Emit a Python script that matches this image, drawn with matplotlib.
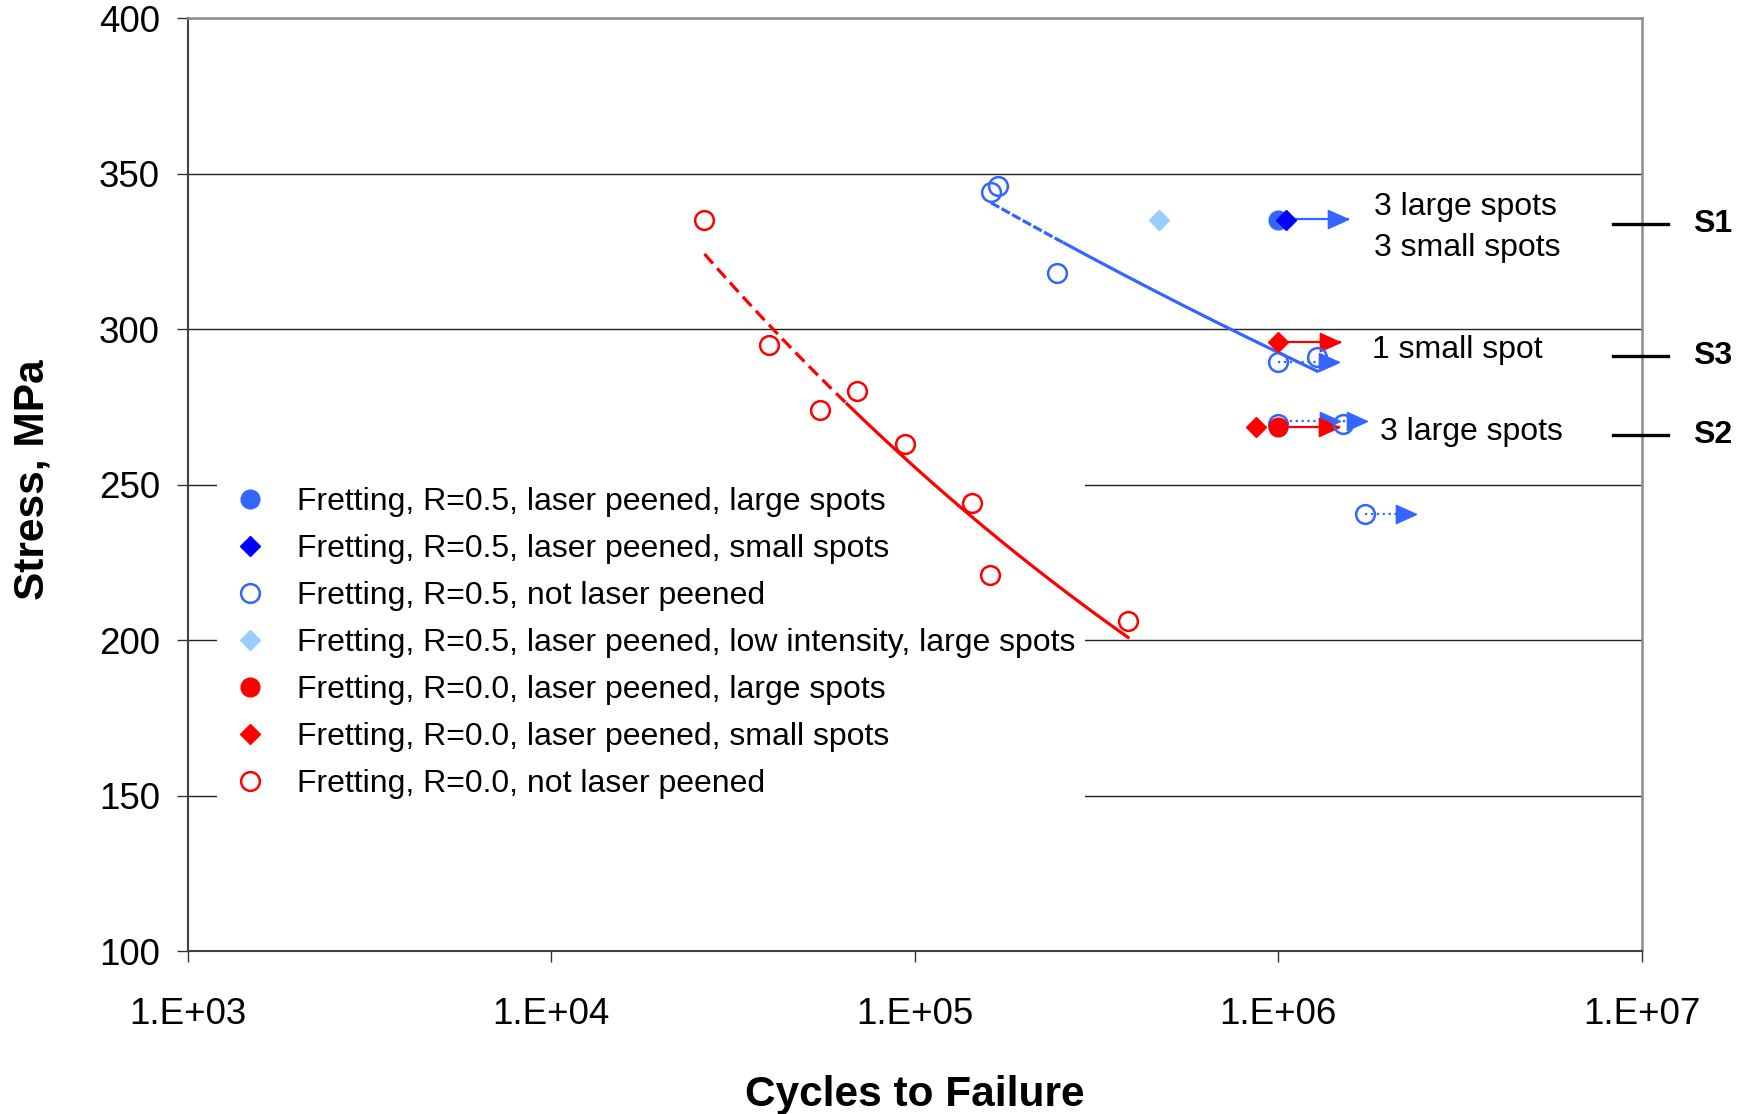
import numpy as np
import matplotlib
matplotlib.use("Agg")
import matplotlib.pyplot as plt
from matplotlib.ticker import FixedLocator, FuncFormatter, NullLocator

plt.rcParams['font.family'] = ['Liberation Sans', 'DejaVu Sans']

# --- data (cycles, stress in MPa) ---
# R=0.5
blue_lp_large_N = [1.0e6]
blue_lp_large_S = [335]
blue_lp_small_N = [1.05e6]
blue_lp_small_S = [335]
blue_open_N = [1.62e5, 1.69e5, 2.46e5, 1.0e6, 1.28e6, 1.0e6, 1.51e6, 1.73e6]
blue_open_S = [344, 346, 318, 289.5, 291, 269.5, 269.5, 240.5]
blue_fit_count = 5  # trend uses the first five points
blue_low_N = [4.71e5]
blue_low_S = [335]

# R=0.0
red_lp_large_N = [1.0e6]
red_lp_large_S = [268.5]
red_lp_small_N = [8.69e5, 1.0e6]
red_lp_small_S = [268.5, 296]
red_open_N = [2.64e4, 3.98e4, 5.48e4, 6.93e4, 9.41e4, 1.44e5, 1.61e5, 3.86e5]
red_open_S = [335, 295, 274, 280, 263, 244, 221, 206]

# run-outs (arrows): start cycles, end cycles, stress, colour, line style
runout_start = [1.05e6, 1.0e6, 1.0e6, 1.0e6, 1.0e6, 1.51e6, 1.73e6]
runout_end = [1.56e6, 1.48e6, 1.47e6, 1.48e6, 1.47e6, 1.75e6, 2.4e6]
runout_S = [335.5, 296, 289.5, 270.5, 268.5, 270.5, 240.5]
runout_color = ['#3366FF', '#FF0000', '#3366FF', '#3366FF', '#FF0000', '#3366FF', '#3366FF']
runout_style = ['-', '-', ':', ':', '-', ':', ':']

# spot annotations
note_text = ['3 large spots', '3 small spots', '1 small spot', '3 large spots']
note_N = [1.83e6, 1.83e6, 1.81e6, 1.90e6]
note_S = [339.4, 326, 293.3, 267.0]

# specimen levels on the right
level_names = ['S1', 'S3', 'S2']
level_S = [333.7, 291.4, 266.0]

x_ticks = [1e3, 1e4, 1e5, 1e6, 1e7]
y_ticks = [100, 150, 200, 250, 300, 350, 400]

BLUE = '#3366FF'
DARK_BLUE = '#0000FF'
LIGHT_BLUE = '#99CCFF'
RED = '#FF0000'

fig = plt.figure(figsize=(17.49, 11.14), dpi=100)
ax = fig.add_axes([0.1073, 0.1463, 0.9387 - 0.1073, 0.9836 - 0.1463])

ax.set_xscale('log')
ax.set_xlim(1e3, 1e7)
ax.set_ylim(100, 400)

# power-law trend lines (linear in log-log), dashed at the start
def trend(N, S, dash_until, color, dashes):
    b, a = np.polyfit(np.log10(N), np.log10(S), 1)
    xs = np.logspace(np.log10(min(N)), np.log10(max(N)), 200)
    ys = 10 ** (a + b * np.log10(xs))
    k = int((xs <= dash_until).sum())
    ax.plot(xs[:k], ys[:k], color=color, lw=2.3, ls=(0, dashes), zorder=3)
    ax.plot(xs[k - 1:], ys[k - 1:], color=color, lw=2.3, zorder=3)

trend(red_open_N, red_open_S, 6.6e4, RED, (4, 2))
trend(blue_open_N[:blue_fit_count], blue_open_S[:blue_fit_count], 2.6e5, BLUE, (3, 0.8))

# run-out arrows
head = [(0, 0), (-1, 0.45), (-1, -0.45), (0, 0)]
for n0, n1, s, c, ls in zip(runout_start, runout_end, runout_S, runout_color, runout_style):
    ax.plot([n0, n1], [s, s], color=c, lw=1.6, ls=ls, zorder=4)
    ax.plot([n1], [s], marker=head, ms=29, color=c, ls='none', zorder=4)

ms_c = 13.5
ms_d = 10.5
ax.plot(blue_lp_large_N, blue_lp_large_S, 'o', ms=ms_c, color=BLUE, ls='none', zorder=5,
        label='Fretting, R=0.5, laser peened, large spots')
ax.plot(blue_lp_small_N, blue_lp_small_S, 'D', ms=ms_d, color=DARK_BLUE, ls='none', zorder=5,
        label='Fretting, R=0.5, laser peened, small spots')
ax.plot(blue_open_N, blue_open_S, 'o', ms=ms_c, mfc='none', mec=BLUE, mew=1.8, ls='none', zorder=5,
        label='Fretting, R=0.5, not laser peened')
ax.plot(blue_low_N, blue_low_S, 'D', ms=ms_d, color=LIGHT_BLUE, ls='none', zorder=5,
        label='Fretting, R=0.5, laser peened, low intensity, large spots')
ax.plot(red_lp_large_N, red_lp_large_S, 'o', ms=ms_c, color=RED, ls='none', zorder=6,
        label='Fretting, R=0.0, laser peened, large spots')
ax.plot(red_lp_small_N, red_lp_small_S, 'D', ms=ms_d, color=RED, ls='none', zorder=6,
        label='Fretting, R=0.0, laser peened, small spots')
ax.plot(red_open_N, red_open_S, 'o', ms=ms_c, mfc='none', mec=RED, mew=1.8, ls='none', zorder=6,
        label='Fretting, R=0.0, not laser peened')

for t, n, s in zip(note_text, note_N, note_S):
    ax.text(n, s, t, fontsize=23, ha='left', va='center', zorder=7)

ytr = ax.get_yaxis_transform()
for name, s in zip(level_names, level_S):
    ax.plot([0.980, 1.018], [s, s], transform=ytr, color='black', lw=2.4, clip_on=False, zorder=7)
    ax.text(1.0355, s, name, transform=ytr, fontsize=23, fontweight='bold',
            ha='left', va='center')

# axes styling
ax.xaxis.set_major_locator(FixedLocator(x_ticks))
ax.xaxis.set_minor_locator(NullLocator())
ax.xaxis.set_major_formatter(FuncFormatter(lambda v, p: f"1.E+{int(round(np.log10(v))):02d}"))
ax.yaxis.set_major_locator(FixedLocator(y_ticks))
ax.tick_params(axis='both', direction='out', length=8, width=1, color='#333333', labelsize=26.5)
ax.tick_params(axis='x', pad=25)
ax.tick_params(axis='y', pad=12)

ax.set_axisbelow(True)
ax.grid(axis='y', color='#222222', lw=1)
ax.grid(axis='x', visible=False)
for side in ['left', 'bottom']:
    ax.spines[side].set_color('#404040')
    ax.spines[side].set_linewidth(1.5)
for side in ['top', 'right']:
    ax.spines[side].set_color('#8c8c8c')
    ax.spines[side].set_linewidth(1.8)

ax.set_xlabel('Cycles to Failure', fontsize=30.5, fontweight='bold', va='baseline')
ax.xaxis.set_label_coords(0.5, -0.1662)
ax.set_ylabel('Stress, MPa', fontsize=30.5, fontweight='bold', va='baseline')
ax.yaxis.set_label_coords(-0.0992, 0.505)

leg = ax.legend(loc='upper left', bbox_to_anchor=(0.020, 0.508), fontsize=23,
                frameon=True, facecolor='white', edgecolor='none', framealpha=1,
                fancybox=False, borderpad=0.3, handlelength=1.5, handletextpad=0.7,
                labelspacing=0.535, borderaxespad=0, numpoints=1)
leg.set_zorder(1.5)

fig.savefig('out.png', dpi=100)
